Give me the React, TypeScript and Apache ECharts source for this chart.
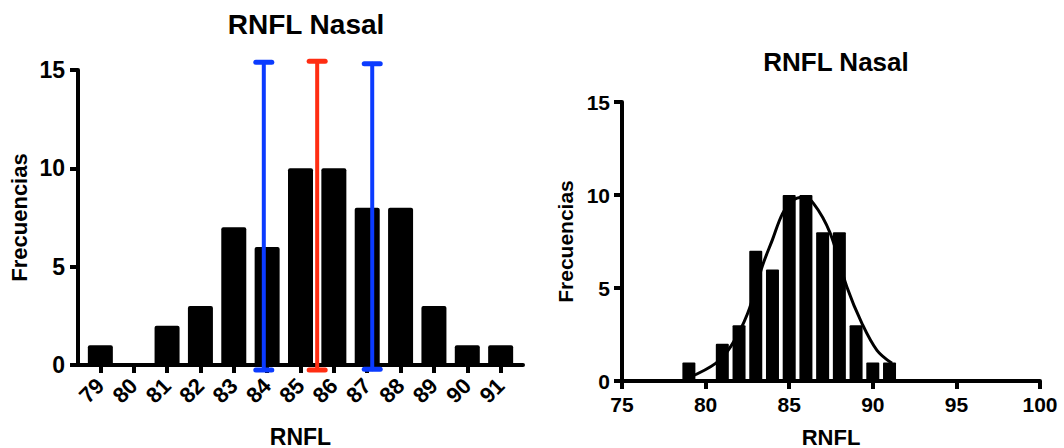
import React, { useEffect, useRef } from "react";
import * as echarts from "echarts";

// Histogram of nasal RNFL thickness (bin centre -> count)
const binCenters = [79, 80, 81, 82, 83, 84, 85, 86, 87, 88, 89, 90, 91];
const frequencies = [1, 0, 2, 3, 7, 6, 10, 10, 8, 8, 3, 1, 1];

// Vertical reference markers on the left panel: lower limit, mean, upper limit
const markerX = [83.9, 85.5, 87.15];
const markerTop = [15.4, 15.45, 15.32];
const markerBottom = [-0.25, -0.25, -0.22];
const markerColors = ["#0b3bff", "#ff2d12", "#0b3bff"];

// Fitted Gaussian curve on the right panel, sampled points
const fitX = [79.0, 80.6, 81.5, 82.5, 83.4, 84.0, 84.6, 85.2, 85.8, 86.45, 87.45, 88.45, 89.35, 90.25, 91.15];
const fitY = [0.18, 0.95, 1.85, 3.6, 6.2, 7.6, 9.0, 9.7, 9.88, 9.55, 7.95, 5.05, 3.1, 1.65, 0.95];

const yTicksMax = 15;
const FONT = "'Liberation Sans', Arial, Helvetica, sans-serif";

export default function App() {
  const ref = useRef<HTMLDivElement>(null);

  useEffect(() => {
    if (!ref.current) return;
    const chart = echarts.init(ref.current, null, { renderer: "svg" });

    const axisLine = { show: true, onZero: false, lineStyle: { color: "#000", width: 4 } };
    const axisTick = { show: true, length: 8, lineStyle: { color: "#000", width: 4 } };
    const labelBase = { color: "#000", fontWeight: "bold" as const, fontFamily: FONT };
    const nameBase = { color: "#000", fontWeight: "bold" as const, fontFamily: FONT };

    const barData = binCenters.map((x, i) => [x, frequencies[i]]);
    const markerData = markerX.map((x, i) => [x, markerBottom[i], markerTop[i]]);
    const curveData = fitX.map((x, i) => [x, fitY[i]]);

    chart.setOption({
      animation: false,
      backgroundColor: "#fff",
      title: [
        {
          text: "RNFL Nasal",
          left: 301,
          top: 5,
          textAlign: "center",
          textStyle: { ...nameBase, fontSize: 28 },
        },
        {
          text: "RNFL Nasal",
          left: 831,
          top: 44,
          textAlign: "center",
          textStyle: { ...nameBase, fontSize: 26 },
        },
      ],
      grid: [
        { left: 78, top: 70, width: 445, height: 295, containLabel: false, outerBoundsMode: "none" },
        { left: 622, top: 102, width: 418, height: 279, containLabel: false, outerBoundsMode: "none" },
      ],
      xAxis: [
        {
          gridIndex: 0,
          type: "value",
          min: 78.33,
          max: 91.67,
          name: "RNFL",
          nameLocation: "middle",
          nameGap: 60,
          nameTextStyle: { ...nameBase, fontSize: 23 },
          axisLine,
          axisTick: { ...axisTick, customValues: binCenters },
          axisLabel: {
            ...labelBase,
            fontSize: 22,
            rotate: 45,
            margin: 17,
            customValues: binCenters,
          },
          splitLine: { show: false },
        },
        {
          gridIndex: 1,
          type: "value",
          min: 75,
          max: 100,
          interval: 5,
          name: "RNFL",
          nameLocation: "middle",
          nameGap: 45,
          nameTextStyle: { ...nameBase, fontSize: 22 },
          axisLine,
          axisTick,
          axisLabel: { ...labelBase, fontSize: 21, margin: 13 },
          splitLine: { show: false },
        },
      ],
      yAxis: [
        {
          gridIndex: 0,
          type: "value",
          min: 0,
          max: yTicksMax,
          interval: 5,
          name: "Frecuencias",
          nameLocation: "middle",
          nameGap: 48,
          nameTextStyle: { ...nameBase, fontSize: 22 },
          axisLine,
          axisTick,
          axisLabel: { ...labelBase, fontSize: 23, margin: 13 },
          splitLine: { show: false },
        },
        {
          gridIndex: 1,
          type: "value",
          min: 0,
          max: yTicksMax,
          interval: 5,
          name: "Frecuencias",
          nameLocation: "middle",
          nameGap: 46,
          nameTextStyle: { ...nameBase, fontSize: 21 },
          axisLine,
          axisTick,
          axisLabel: { ...labelBase, fontSize: 21, margin: 12 },
          splitLine: { show: false },
        },
      ],
      series: [
        {
          type: "bar",
          xAxisIndex: 0,
          yAxisIndex: 0,
          data: barData,
          barWidth: 25,
          itemStyle: { color: "#000", borderRadius: [2, 2, 0, 0] },
          z: 2,
        },
        {
          type: "custom",
          xAxisIndex: 0,
          yAxisIndex: 0,
          data: markerData,
          clip: false,
          z: 10,
          encode: { x: 0, y: [1, 2] },
          renderItem: (params: any, api: any) => {
            const x = api.value(0);
            const bottom = api.coord([x, api.value(1)]);
            const top = api.coord([x, api.value(2)]);
            const color = markerColors[params.dataIndex];
            const half = 8;
            const style = { stroke: color, lineWidth: 4, lineCap: "round" };
            return {
              type: "group",
              children: [
                { type: "line", shape: { x1: top[0], y1: top[1], x2: bottom[0], y2: bottom[1] }, style },
                { type: "line", shape: { x1: top[0] - half, y1: top[1], x2: top[0] + half, y2: top[1] }, style: { ...style, lineWidth: 5 } },
                { type: "line", shape: { x1: bottom[0] - half, y1: bottom[1], x2: bottom[0] + half, y2: bottom[1] }, style: { ...style, lineWidth: 5 } },
              ],
            };
          },
        },
        {
          type: "bar",
          xAxisIndex: 1,
          yAxisIndex: 1,
          data: barData,
          barWidth: 13,
          itemStyle: { color: "#000", borderRadius: [1, 1, 0, 0] },
          z: 2,
        },
        {
          type: "line",
          xAxisIndex: 1,
          yAxisIndex: 1,
          data: curveData,
          smooth: 0.35,
          symbol: "none",
          lineStyle: { color: "#000", width: 3 },
          z: 5,
        },
      ],
    });

    return () => chart.dispose();
  }, []);

  return (
    <div
      ref={ref}
      style={{ position: "fixed", left: 0, top: 0, width: 1064, height: 448, background: "#fff" }}
    />
  );
}
